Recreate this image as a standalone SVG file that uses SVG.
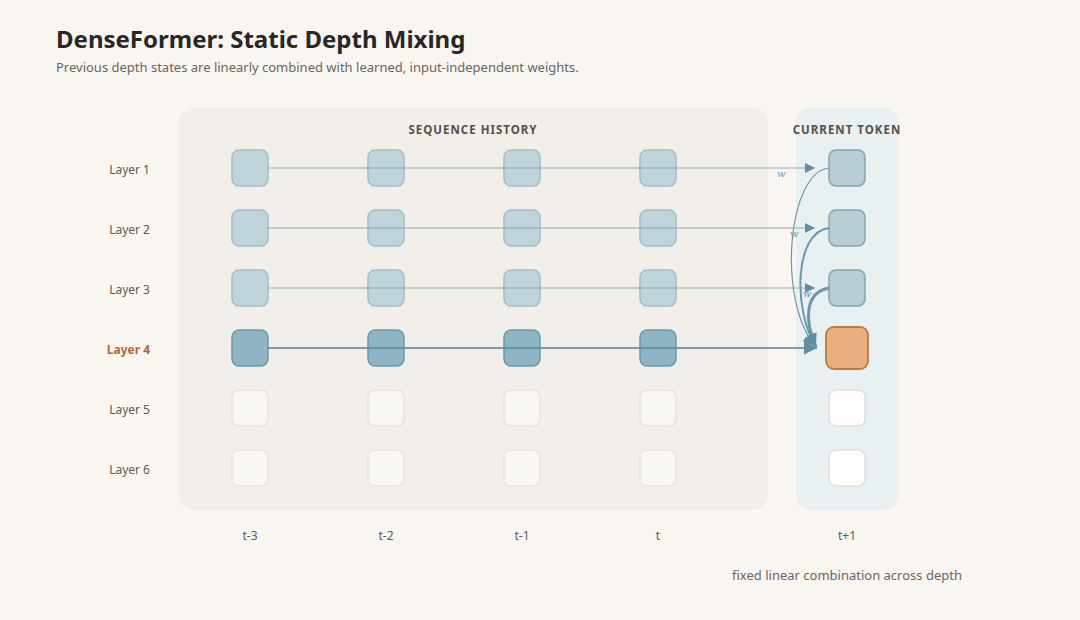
<svg xmlns="http://www.w3.org/2000/svg" width="1080" height="620" viewBox="0 0 1080 620">
<defs>
<style>
text{font-family:"Noto Sans","Open Sans","Liberation Sans",sans-serif}
.title{font-size:24px;font-weight:700;fill:#2a2624}
.sub{font-size:13px;fill:#6b6561}
.lbl{font-size:12px;fill:#5f5a56;text-anchor:end}
.col{font-size:12px;fill:#5f5a56;text-anchor:middle}
.hdr{font-size:11.5px;font-weight:700;fill:#555049;letter-spacing:1px;text-anchor:middle}
.w{font-family:"DejaVu Serif","Liberation Serif",serif;font-style:italic;font-size:10px;fill:#6b95a5}
.h{fill:#bfd3da;stroke:#a4bdc6;stroke-width:1.5}
.a{fill:#8fb5c4;stroke:#6b98aa;stroke-width:1.5}
.e{fill:#f8f6f3;stroke:#e7e3de;stroke-width:1.5}
.c{fill:#b7ccd5;stroke:#82a5b4;stroke-width:1.5}
.ce{fill:#fffdfb;stroke:#e3ded9;stroke-width:1.5}
.o{fill:#e8b07f;stroke:#bf7843;stroke-width:1.8}
.ln{stroke:#7ea3b1;stroke-opacity:0.6;stroke-width:1.5;fill:none}
.ln4{stroke:#5f8fa2;stroke-opacity:0.85;stroke-width:2;fill:none}
.cv{stroke:#6c99aa;fill:none}
</style>
<marker id="ar" viewBox="0 0 10 10" refX="10" refY="5" markerWidth="14" markerHeight="10" markerUnits="userSpaceOnUse" orient="auto"><path d="M0,0L10,5L0,10z" fill="#5e8ea0"/></marker>
<marker id="ar4" viewBox="0 0 10 10" refX="10" refY="5" markerWidth="17" markerHeight="13" markerUnits="userSpaceOnUse" orient="auto"><path d="M0,0L10,5L0,10z" fill="#5e8ea0"/></marker>
</defs>
<rect width="1080" height="620" fill="#f9f6f2"/>
<text class="title" x="56" y="48">DenseFormer: Static Depth Mixing</text>
<text class="sub" x="56" y="72">Previous depth states are linearly combined with learned, input-independent weights.</text>
<g id="panel-history"><rect x="178" y="108" width="590" height="402" rx="16" fill="#f2efeb"/><text class="hdr" x="473" y="134">SEQUENCE HISTORY</text></g>
<g id="panel-current"><rect x="796" y="108" width="102" height="402" rx="14" fill="#e9f0f2"/><text class="hdr" x="847" y="134">CURRENT TOKEN</text></g>
<g id="labels">
<text class="lbl" x="150" y="174">Layer 1</text>
<text class="lbl" x="150" y="234">Layer 2</text>
<text class="lbl" x="150" y="294">Layer 3</text>
<text class="lbl" x="150" y="354" style="fill:#b4653a;font-weight:700">Layer 4</text>
<text class="lbl" x="150" y="414">Layer 5</text>
<text class="lbl" x="150" y="474">Layer 6</text>
<text class="col" x="250" y="540">t-3</text>
<text class="col" x="386" y="540">t-2</text>
<text class="col" x="522" y="540">t-1</text>
<text class="col" x="658" y="540">t</text>
<text class="col" x="847" y="540">t+1</text>
<text class="sub" x="847" y="580" style="text-anchor:middle;font-size:13px">fixed linear combination across depth</text>
</g>
<g id="history-nodes">
<g id="n-1-1"><rect class="h" x="232" y="150" width="36" height="36" rx="7"/></g>
<g id="n-1-2"><rect class="h" x="368" y="150" width="36" height="36" rx="7"/></g>
<g id="n-1-3"><rect class="h" x="504" y="150" width="36" height="36" rx="7"/></g>
<g id="n-1-4"><rect class="h" x="640" y="150" width="36" height="36" rx="7"/></g>
<g id="n-2-1"><rect class="h" x="232" y="210" width="36" height="36" rx="7"/></g>
<g id="n-2-2"><rect class="h" x="368" y="210" width="36" height="36" rx="7"/></g>
<g id="n-2-3"><rect class="h" x="504" y="210" width="36" height="36" rx="7"/></g>
<g id="n-2-4"><rect class="h" x="640" y="210" width="36" height="36" rx="7"/></g>
<g id="n-3-1"><rect class="h" x="232" y="270" width="36" height="36" rx="7"/></g>
<g id="n-3-2"><rect class="h" x="368" y="270" width="36" height="36" rx="7"/></g>
<g id="n-3-3"><rect class="h" x="504" y="270" width="36" height="36" rx="7"/></g>
<g id="n-3-4"><rect class="h" x="640" y="270" width="36" height="36" rx="7"/></g>
<g id="n-4-1"><rect class="a" x="232" y="330" width="36" height="36" rx="7"/></g>
<g id="n-4-2"><rect class="a" x="368" y="330" width="36" height="36" rx="7"/></g>
<g id="n-4-3"><rect class="a" x="504" y="330" width="36" height="36" rx="7"/></g>
<g id="n-4-4"><rect class="a" x="640" y="330" width="36" height="36" rx="7"/></g>
<g id="n-5-1"><rect class="e" x="232" y="390" width="36" height="36" rx="7"/></g>
<g id="n-5-2"><rect class="e" x="368" y="390" width="36" height="36" rx="7"/></g>
<g id="n-5-3"><rect class="e" x="504" y="390" width="36" height="36" rx="7"/></g>
<g id="n-5-4"><rect class="e" x="640" y="390" width="36" height="36" rx="7"/></g>
<g id="n-6-1"><rect class="e" x="232" y="450" width="36" height="36" rx="7"/></g>
<g id="n-6-2"><rect class="e" x="368" y="450" width="36" height="36" rx="7"/></g>
<g id="n-6-3"><rect class="e" x="504" y="450" width="36" height="36" rx="7"/></g>
<g id="n-6-4"><rect class="e" x="640" y="450" width="36" height="36" rx="7"/></g>
</g>
<g id="current-nodes">
<g id="c-1"><rect class="c" x="829" y="150" width="36" height="36" rx="7"/></g>
<g id="c-2"><rect class="c" x="829" y="210" width="36" height="36" rx="7"/></g>
<g id="c-3"><rect class="c" x="829" y="270" width="36" height="36" rx="7"/></g>
<g id="c-4"><rect class="o" x="826" y="327" width="42" height="42" rx="8"/></g>
<g id="c-5"><rect class="ce" x="829" y="390" width="36" height="36" rx="7"/></g>
<g id="c-6"><rect class="ce" x="829" y="450" width="36" height="36" rx="7"/></g>
</g>
<g id="connectors">
<path class="ln" d="M268,168H815" marker-end="url(#ar)"/>
<path class="ln" d="M268,228H815" marker-end="url(#ar)"/>
<path class="ln" d="M268,288H815" marker-end="url(#ar)"/>
<path class="ln4" d="M268,348H817" marker-end="url(#ar4)"/>
<path class="cv" stroke-width="1.2" d="M829,168C788,172 776,300 816,347" marker-end="url(#ar4)"/>
<path class="cv" stroke-width="2" d="M829,228C794,232 793,310 816,347" marker-end="url(#ar4)"/>
<path class="cv" stroke-width="3" d="M829,288C805,292 804,320 816,347" marker-end="url(#ar4)"/>
<text class="w" x="777" y="177">w</text>
<text class="w" x="790" y="237">w</text>
<text class="w" x="803" y="297">w</text>
</g>
</svg>
